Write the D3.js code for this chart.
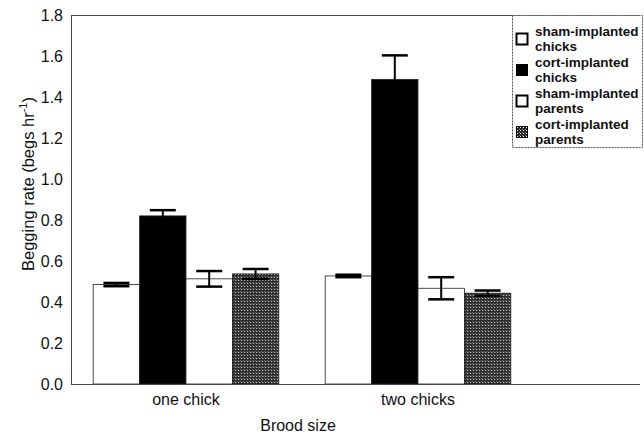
<!DOCTYPE html>
<html><head><meta charset="utf-8">
<script src="https://cdn.jsdelivr.net/npm/d3@7"></script>
<style>body{margin:0;background:#fff}svg{display:block;font-family:"Liberation Sans",Arial,sans-serif}</style>
</head><body>
<svg id="c" width="644" height="435"></svg>
<script>
const categories = ["one chick", "two chicks"];
const seriesNames = ["sham-implanted chicks", "cort-implanted chicks", "sham-implanted parents", "cort-implanted parents"];
const legendLines = [["sham-implanted","chicks"],["cort-implanted","chicks"],["sham-implanted","parents"],["cort-implanted","parents"]];
const shamChicks = [0.485, 0.527];
const cortChicks = [0.82, 1.486];
const shamParents = [0.513, 0.467];
const cortParents = [0.537, 0.443];
const shamChicksErr = [0.008, 0.006];
const cortChicksErr = [0.028, 0.117];
const shamParentsErr = [0.038, 0.054];
const cortParentsErr = [0.024, 0.013];
const yTicks = [0, 0.2, 0.4, 0.6, 0.8, 1.0, 1.2, 1.4, 1.6, 1.8];

const values = [shamChicks, cortChicks, shamParents, cortParents];
const errs = [shamChicksErr, cortChicksErr, shamParentsErr, cortParentsErr];
const fills = ["#fff", "#000", "#fff", "url(#pat)"];
const FONT = "Liberation Sans, Arial, sans-serif";

const svg = d3.select("#c");
const defs = svg.append("defs");
const pat = defs.append("pattern").attr("id","pat").attr("patternUnits","userSpaceOnUse").attr("width",3).attr("height",3);
pat.append("rect").attr("width",3).attr("height",3).attr("fill","#2a2a2a");
pat.append("rect").attr("x",1).attr("y",1).attr("width",1).attr("height",1).attr("fill","#e8e8e8");
pat.append("rect").attr("x",0).attr("y",0).attr("width",1).attr("height",1).attr("fill","#777");

const L = 71, R = 640, T = 15, B = 384;
const y = d3.scaleLinear().domain([0, 1.8]).range([B, T]);
const x0 = d3.scaleBand().domain(categories).range([70, 534]).paddingInner(0.2).paddingOuter(0.1);
const x1 = d3.scaleBand().domain(d3.range(4)).range([0, x0.bandwidth()]);

// frame
svg.append("line").attr("x1",L).attr("x2",R).attr("y1",T+0.5).attr("y2",T+0.5).attr("stroke","#444");
svg.append("line").attr("x1",L+0.5).attr("x2",L+0.5).attr("y1",T).attr("y2",B+1).attr("stroke","#444");

// y axis labels
const yAxis = d3.axisLeft(y).tickValues(yTicks).tickFormat(d3.format(".1f")).tickSize(0).tickPadding(8);
const ga = svg.append("g").attr("transform",`translate(${L},0)`).call(yAxis);
ga.select(".domain").remove();
ga.selectAll("text").attr("font-size",16).attr("fill","#111").attr("font-family",FONT);

// bars
categories.forEach((c, ci) => {
  const g = svg.append("g").attr("transform",`translate(${x0(c)},0)`);
  values.forEach((arr, si) => {
    const v = arr[ci];
    g.append("rect").attr("x", x1(si)).attr("y", y(v)).attr("width", x1.bandwidth()).attr("height", y(0) - y(v))
      .attr("fill", fills[si]).attr("stroke", "#222").attr("stroke-width", 0.8);
  });
  values.forEach((arr, si) => {
    const v = arr[ci], e = errs[si][ci];
    const cx = x1(si) + x1.bandwidth() / 2;
    g.append("line").attr("x1",cx).attr("x2",cx).attr("y1",y(v+e)).attr("y2",y(v-e)).attr("stroke","#000").attr("stroke-width",2);
    [v+e, v-e].forEach(t => g.append("line").attr("x1",cx-13).attr("x2",cx+13).attr("y1",y(t)).attr("y2",y(t)).attr("stroke","#000").attr("stroke-width",2.5));
  });
});

// x axis
svg.append("line").attr("x1",L).attr("x2",R).attr("y1",B+0.5).attr("y2",B+0.5).attr("stroke","#444");
const xAxis = d3.axisBottom(x0).tickSize(0).tickPadding(10);
const gx = svg.append("g").attr("transform",`translate(0,${B})`).call(xAxis);
gx.select(".domain").remove();
gx.selectAll("text").attr("font-size",16).attr("fill","#111").attr("font-family",FONT);

// axis titles
svg.append("text").attr("x",298).attr("y",431).attr("text-anchor","middle").attr("font-size",16).attr("fill","#111").text("Brood size");
const yt = svg.append("text").attr("transform","translate(34,184) rotate(-90)").attr("text-anchor","middle").attr("font-size",16.5).attr("fill","#111");
yt.append("tspan").text("Begging rate (begs hr");
yt.append("tspan").attr("dy",-7).attr("font-size",11).text("-1");
yt.append("tspan").attr("dy",7).text(")");

// legend
const lg = svg.append("g");
lg.append("rect").attr("x",512.5).attr("y",15.5).attr("width",130).attr("height",132).attr("fill","#fff").attr("stroke","#555").attr("stroke-dasharray","2,1");
legendLines.forEach((lines, i) => {
  const y0 = 36 + i * 31;
  lg.append("rect").attr("x",516.5).attr("y",y0 - 2.5).attr("width",11).attr("height",11)
    .attr("fill", fills[i]).attr("stroke","#000").attr("stroke-width", i===0||i===2 ? 2 : 1);
  lines.forEach((t, j) => lg.append("text").attr("x",535).attr("y",y0 + j*14.5).attr("font-size",13.5).attr("font-weight","bold").attr("fill","#111").text(t));
});
</script>
</body></html>
